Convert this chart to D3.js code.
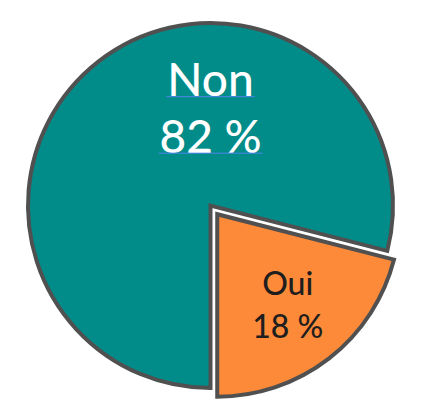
<!DOCTYPE html>
<html>
<head>
<meta charset="utf-8">
<script src="https://cdn.jsdelivr.net/npm/d3@7"></script>
<style>
  html, body { margin: 0; padding: 0; background: #ffffff; }
  svg { display: block; }
</style>
</head>
<body>
<div id="chart"></div>
<script>
// ---- data ----
const categories = ["Non", "Oui"];
const shares = [79, 21];              // drawn slice sizes
const percentLabels = ["82 %", "18 %"];
const sliceColors = ["#018c8a", "#fd8a38"];

// ---- layout ----
const W = 422, H = 420;
const cx = 210.5, cy = 205.5, R = 182.5;
const explode = [0, 11];

const svg = d3.select("#chart").append("svg").attr("width", W).attr("height", H);
const g = svg.append("g").attr("transform", `translate(${cx},${cy})`);

const pie = d3.pie().sort(null).value(d => d.v).startAngle(Math.PI).endAngle(3 * Math.PI);
const data = categories.map((c, i) => ({ c, v: shares[i], p: percentLabels[i], col: sliceColors[i], ex: explode[i] }));
const arcs = pie(data);
const arc = d3.arc().innerRadius(0).outerRadius(R);

const slices = g.selectAll("g.slice").data(arcs).join("g")
  .attr("class", "slice")
  .attr("transform", d => {
    const m = (d.startAngle + d.endAngle) / 2;
    return `translate(${Math.sin(m) * d.data.ex},${-Math.cos(m) * d.data.ex})`;
  });

slices.append("path")
  .attr("d", arc)
  .attr("fill", d => d.data.col)
  .attr("stroke", "#505050")
  .attr("stroke-width", 4)
  .attr("stroke-linejoin", "miter");

// label placement
const labelCfg = [
  { angle: 0, rad: 0.535 * R, size: 46, gap: 56.5, color: "#ffffff", underline: true },
  { angle: null, rad: 0.63 * R, size: 32, gap: 43.3, color: "#1e1e1e", underline: false }
];

slices.each(function(d, i) {
  const cfg = labelCfg[i];
  const a = cfg.angle === null ? (d.startAngle + d.endAngle) / 2 : cfg.angle;
  const x = Math.sin(a) * cfg.rad, y = -Math.cos(a) * cfg.rad;
  const sel = d3.select(this);
  const lines = [d.data.c, d.data.p];
  lines.forEach((t, k) => {
    const base = y + (k === 0 ? -cfg.gap / 2 : cfg.gap / 2) + cfg.size * 0.36;
    const txt = sel.append("text")
      .attr("x", x).attr("y", base)
      .attr("text-anchor", "middle")
      .attr("font-family", "Lato, 'Open Sans', sans-serif")
      .attr("font-weight", 500)
      .attr("font-size", cfg.size)
      .attr("fill", cfg.color)
      .text(t);
    if (cfg.underline) {
      const w = txt.node().getComputedTextLength();
      sel.append("line")
        .attr("x1", x - w / 2 - 1).attr("x2", x + w / 2 + 1)
        .attr("y1", base + 0.5).attr("y2", base + 0.5)
        .attr("stroke", "#4f86e8").attr("stroke-width", 1);
    }
  });
});
</script>
</body>
</html>
